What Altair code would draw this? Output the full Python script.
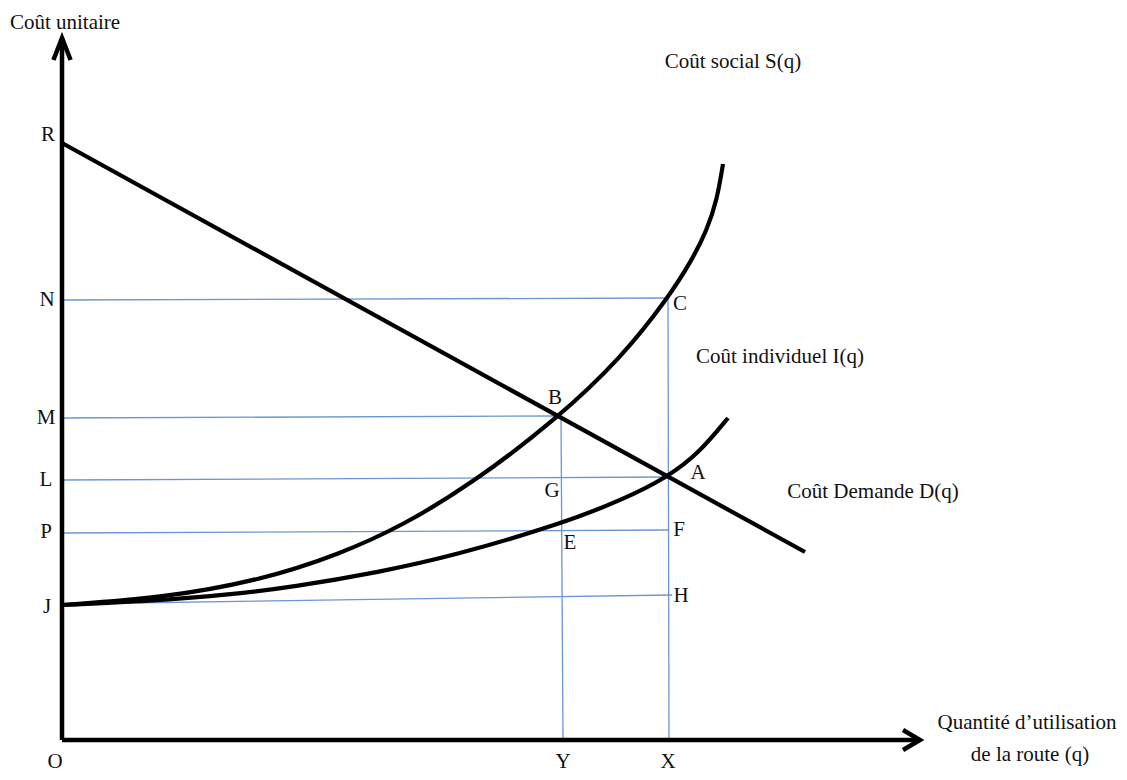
import altair as alt
import pandas as pd

# ---- data (q = quantity units, c = unit-cost units) ----
demand_q = [0, 743]
demand_c = [597, 188]

social_q = [0, 100, 200, 278, 340, 411, 496, 560, 606, 630, 645, 655, 661]
social_c = [135, 142, 160, 186, 214, 257, 322, 383, 442, 480, 510, 540, 576]

indiv_q = [0, 88, 165, 231, 318, 391, 499, 560, 606, 638, 666]
indiv_c = [135, 139, 145, 153, 168, 184, 216, 240, 263, 288, 322]

# guide lines (blue): start/end points
guide_q1 = [0, 0, 0, 0, 0, 499, 606]
guide_c1 = [440, 322, 260, 207, 136, 324, 442]
guide_q2 = [606, 496, 606, 606, 610, 501, 607]
guide_c2 = [442, 324, 263, 210, 145, 0, 0]

# axes
axis_q_end = 858
axis_c_end = 702

# labels
lab_text = ["R", "N", "M", "L", "P", "J", "O", "Y", "X",
            "B", "C", "A", "G", "E", "F", "H",
            "Coût unitaire", "Coût social S(q)", "Coût individuel I(q)",
            "Coût Demande D(q)", "Quantité d’utilisation", "de la route (q)"]
lab_q = [-14, -15, -16, -16, -16, -15, -7, 501, 606,
         493, 618, 636, 490, 508, 617, 619,
         3, 671, 718, 811, 965, 968]
lab_c = [605, 440, 322, 260, 208, 133, -22, -22, -22,
         342, 436, 267, 249, 197, 210, 144,
         717, 678, 383, 248, 17, -15]

# ---- tables ----
demand = pd.DataFrame({"q": demand_q, "c": demand_c})
social = pd.DataFrame({"q": social_q, "c": social_c})
indiv = pd.DataFrame({"q": indiv_q, "c": indiv_c})
guides = pd.DataFrame({"q": guide_q1, "c": guide_c1, "q2": guide_q2, "c2": guide_c2})
axes = pd.DataFrame({"q": [0, 0], "c": [0, 0], "q2": [0, axis_q_end], "c2": [axis_c_end, 0]})
labels = pd.DataFrame({"t": lab_text, "q": lab_q, "c": lab_c})

FONT = "Liberation Serif"
xs = alt.Scale(domain=[-54, 1057], nice=False, zero=False)
ys = alt.Scale(domain=[-32, 732], nice=False, zero=False)
X = lambda f="q": alt.X(f"{f}:Q", scale=xs, axis=None)
Y = lambda f="c": alt.Y(f"{f}:Q", scale=ys, axis=None)

guide_layer = alt.Chart(guides).mark_rule(color="#6a96d2", strokeWidth=1.3).encode(
    x=X(), y=Y(), x2="q2:Q", y2="c2:Q")

axis_layer = alt.Chart(axes).mark_rule(color="black", strokeWidth=4.5).encode(
    x=X(), y=Y(), x2="q2:Q", y2="c2:Q")

arrow_y = alt.Chart(pd.DataFrame({"q": [0], "c": [axis_c_end]})).mark_point(
    shape="M-0.39,1L0,0L0.39,1", size=1936, filled=False, color="black",
    strokeWidth=4.5, opacity=1, strokeJoin="miter").encode(x=X(), y=Y())

arrow_x = alt.Chart(pd.DataFrame({"q": [axis_q_end], "c": [0]})).mark_point(
    shape="M-1,-0.59L0,0L-1,0.59", size=1156, filled=False, color="black",
    strokeWidth=4.5, opacity=1, strokeJoin="miter").encode(x=X(), y=Y())

demand_layer = alt.Chart(demand).mark_line(color="black", strokeWidth=4.2).encode(
    x=X(), y=Y(), order="q:Q")
social_layer = alt.Chart(social).mark_line(color="black", strokeWidth=4.2, interpolate="basis").encode(
    x=X(), y=Y(), order="q:Q")
indiv_layer = alt.Chart(indiv).mark_line(color="black", strokeWidth=4.2, interpolate="basis").encode(
    x=X(), y=Y(), order="q:Q")

text_layer = alt.Chart(labels).mark_text(
    font=FONT, fontSize=21, color="#111111", align="center", baseline="middle").encode(
    x=X(), y=Y(), text="t:N")

chart = alt.layer(
    guide_layer, axis_layer, arrow_y, arrow_x,
    demand_layer, social_layer, indiv_layer, text_layer
).properties(
    width=1111, height=764, padding=0, autosize=alt.AutoSizeParams(type="none"),
    background="white"
).configure_view(stroke=None)

chart.save("out.html", embed_options={"renderer": "svg", "actions": False})
